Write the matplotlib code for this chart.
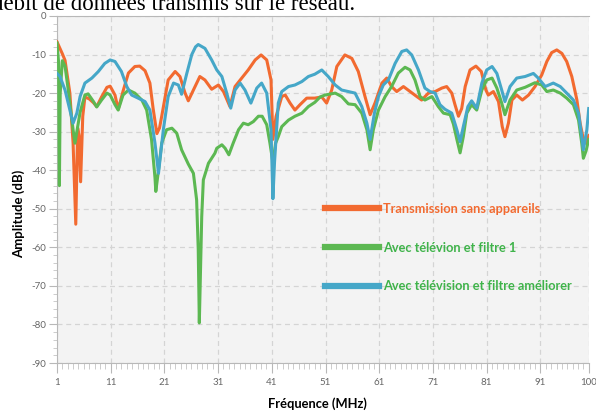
import numpy as np
import matplotlib
matplotlib.use('Agg')
import matplotlib.pyplot as plt
from matplotlib.ticker import MultipleLocator, FixedLocator

plt.rcParams['axes.unicode_minus'] = False
plt.rcParams['font.family'] = ['Lato', 'DejaVu Sans']

# Transmission sans appareils
freq_orange = [1.0, 2.0, 2.5, 3.4, 4.0, 4.5, 4.85, 5.1, 5.4, 5.8, 6.2, 7.0, 7.8, 8.4, 9.3,
               10.3, 10.9, 11.8, 12.4, 13.3, 14.3, 15.5, 16.4, 17.4, 18.3, 18.9, 19.6, 20.1,
               20.5, 21.7, 23.0, 23.9, 24.8, 25.45, 26.4, 27.6, 28.55, 29.8, 31.05, 32.0,
               33.2, 34.15, 35.4, 36.6, 37.9, 39.0, 40.05, 40.85, 41.2, 41.8, 42.85, 43.5,
               44.4, 45.3, 46.25, 47.5, 49.0, 50.3, 51.2, 52.15, 53.1, 54.6, 55.9, 57.1,
               58.35, 59.3, 60.2, 61.5, 62.4, 63.3, 64.25, 65.5, 66.75, 68.0, 68.9, 70.15,
               71.4, 72.65, 73.55, 74.5, 75.1, 75.75, 76.35, 77.0, 77.9, 79.0, 80.0, 80.85,
               81.3, 82.25, 83.2, 83.9, 84.4, 85.05, 85.7, 86.6, 87.65, 88.8, 90.0, 91.25,
               92.2, 93.1, 94.05, 95.0, 95.9, 96.85, 97.8, 98.4, 99.0, 99.5, 100.0]
amp_orange = [-6.7, -9.8, -11.5, -20, -33, -54, -29, -31, -43, -26, -21, -21.5, -22.5, -23.5, -21,
              -18.5, -18.2, -20.5, -24.2, -19.5, -14.8, -13.1, -13, -14.2, -17.4, -24, -30.5, -29,
              -26, -16.6, -14.4, -15.7, -19.8, -22, -19.2, -15.7, -16.6, -19, -17.9, -19.6,
              -23.5, -18.3, -16.1, -14, -11.4, -10.1, -11.4, -16.6, -32, -26, -20.9, -20.5,
              -22.6, -24.4, -23, -21.3, -21.3, -21, -22.6, -19.2, -13.1, -10.1, -11, -14.4,
              -20.9, -25.6, -22.6, -17.4, -16.1, -18.3, -19.6, -18.3, -19.6, -20.9, -21.8, -20,
              -19.6, -18.7, -18.3, -20, -23, -26, -24, -18.3, -14, -13, -14.4, -19.2,
              -20.5, -19.6, -22.2, -28.7, -31.3, -27.8, -21.8, -20.5, -21.8, -20.5, -18.3, -15.3,
              -11.8, -9.5, -8.8, -9.7, -11.8, -15.7, -21.8, -27.8, -32, -33, -31]

# Avec télévion et filtre 1
freq_green = [1.0, 1.3, 1.45, 1.6, 2.0, 2.5, 3.1, 4.0, 4.35, 4.7, 5.3, 6.2, 6.8, 7.8, 8.4,
              9.3, 10.3, 10.9, 11.8, 12.4, 13.3, 14.3, 15.5, 16.8, 17.7, 18.6, 19.25, 19.4,
              19.9, 20.5, 21.4, 22.4, 23.3, 24.2, 25.45, 26.4, 27.0, 27.3, 27.5, 27.95, 28.25,
              29.2, 30.4, 30.75, 31.7, 32.3, 33.0, 33.8, 34.8, 35.7, 36.6, 37.55, 38.5, 39.2,
              40.05, 40.65, 41.2, 41.7, 42.2, 42.85, 44.1, 45.3, 46.6, 47.8, 49.0, 50.0, 50.9,
              52.8, 54.0, 55.25, 56.5, 57.75, 58.7, 59.3, 59.9, 60.85, 62.1, 63.3, 64.55, 65.8,
              66.75, 67.65, 68.6, 69.5, 70.8, 72.0, 72.95, 74.2, 74.8, 75.45, 76.05, 76.65,
              77.3, 78.2, 79.15, 80.1, 81.0, 82.0, 82.9, 83.8, 84.4, 85.35, 86.6, 88.15, 90.0,
              91.25, 92.2, 93.4, 94.7, 95.9, 97.15, 98.1, 98.7, 99.0, 99.5, 100.0]
amp_green = [-7, -12, -44, -20, -11.6, -13, -19.2, -29.5, -33, -30, -25, -20.5, -20.2, -22.2, -23.6,
             -21.8, -20, -20.5, -23, -24.4, -20.5, -19.2, -20, -21.8, -24.4, -32, -42, -45.5,
             -40, -33, -29.5, -29.1, -30.4, -34.7, -38.4, -40.8, -47.7, -60.6, -79.6, -52, -42.5,
             -38.2, -35.6, -34.3, -33.4, -34.3, -36, -33, -29.5, -27.8, -28.2, -27.4, -26, -26,
             -28.2, -33, -38, -33, -31.3, -28.7, -27, -26, -25.2, -23.5, -22.4, -21, -20.5,
             -20, -20.9, -22.8, -23, -25.2, -29.5, -34.7, -29.5, -24.4, -20.9, -18.3, -14.8, -13.3,
             -14, -16.6, -20.9, -21.8, -20.9, -23.5, -25.2, -25.6, -28, -32, -35.5, -31.3,
             -25.2, -23, -24.4, -19.2, -16.6, -16.1, -18.7, -22.6, -25.6, -21.8, -19.2, -18.5, -17.3,
             -17.9, -19.6, -19.2, -20, -21.3, -23, -27, -33, -36.9, -35, -32]

# Avec télévision et filtre améliorer
freq_blue = [1.0, 1.56, 2.5, 3.4, 4.0, 4.7, 5.3, 6.2, 7.5, 8.7, 9.9, 10.9, 11.8, 13.0, 14.0,
             14.9, 16.1, 17.4, 18.3, 19.25, 19.9, 20.8, 21.7, 22.7, 23.6, 24.2, 25.15, 26.1,
             26.8, 27.3, 28.55, 29.8, 30.75, 31.7, 32.6, 33.35, 34.15, 35.1, 36.0, 37.1, 38.2,
             39.1, 40.05, 40.85, 41.2, 41.5, 42.2, 42.85, 44.1, 45.3, 46.6, 47.8, 49.0, 50.3,
             51.5, 52.8, 54.0, 55.25, 56.5, 57.75, 58.7, 59.3, 60.1, 60.85, 61.75, 62.7, 63.95,
             65.2, 66.1, 67.05, 68.3, 69.5, 70.45, 71.4, 72.3, 73.25, 74.5, 75.45, 76.05, 76.65,
             77.5, 78.2, 79.15, 80.1, 81.0, 82.0, 82.9, 83.8, 84.4, 85.35, 86.6, 88.15, 89.7,
             90.6, 91.9, 93.4, 94.7, 95.9, 97.15, 98.1, 98.7, 99.0, 99.65, 100.0]
amp_blue = [-14.9, -15.7, -19.2, -24.4, -27.8, -25.2, -20.9, -17.4, -16.1, -14.4, -12.3, -11.4, -11.8, -14.4, -18.3,
            -20.5, -21.3, -22.2, -24.4, -33, -40.8, -29.5, -20.9, -17.4, -17.9, -20.3, -15, -10,
            -8, -7.4, -8.4, -11.4, -14, -15.7, -20, -23.9, -19.2, -17.4, -19.2, -22.6, -18.7,
            -17.4, -20, -29.5, -47.4, -38, -22.6, -19.6, -18.3, -17.9, -17, -15.7, -15.1, -14,
            -15.7, -17.9, -19.2, -19.6, -20, -23.5, -27.8, -32, -25.2, -20.9, -17.9, -16.6, -12.3,
            -9.2, -8.8, -10.1, -14, -18.7, -19.6, -20, -23, -24.2, -25.2, -29.5, -32.6, -28.7,
            -23.5, -22, -23.9, -17.4, -14, -13.1, -14.9, -19.2, -22.2, -18.3, -16.1, -15.7, -14.9,
            -16.1, -18.3, -17.4, -18.3, -20, -21.8, -25.2, -31.3, -34.7, -29.5, -24]

labels = ['Transmission sans appareils', 'Avec télévion et filtre 1',
          'Avec télévision et filtre améliorer']
x_ticks = [1, 11, 21, 31, 41, 51, 61, 71, 81, 91, 100]

c_orange = '#f26a30'
c_green = '#5cb852'
c_blue = '#45a7c8'

fig = plt.figure(figsize=(5.96, 4.12), dpi=100)
ax = fig.add_axes([0.0956, 0.1189, 0.8922, 0.8423])
ax.set_facecolor('#f3f3f3')

ax.plot(freq_orange, amp_orange, color=c_orange, lw=2.2, solid_joinstyle='round', label=labels[0], zorder=3)
ax.plot(freq_green, amp_green, color=c_green, lw=2.2, solid_joinstyle='round', label=labels[1], zorder=4)
ax.plot(freq_blue, amp_blue, color=c_blue, lw=2.2, solid_joinstyle='round', label=labels[2], zorder=5)

ax.set_xlim(1, 100)
ax.set_ylim(-90, 0)
ax.xaxis.set_major_locator(FixedLocator(x_ticks))
ax.xaxis.set_minor_locator(MultipleLocator(1))
ax.yaxis.set_major_locator(MultipleLocator(10))
ax.yaxis.set_minor_locator(MultipleLocator(2))

ax.grid(True, which='major', color='#d4d4d4', linestyle=(0, (4, 3)), linewidth=0.9)
for s in ['left', 'bottom', 'top']:
    ax.spines[s].set_color('#b8b8b8')
ax.spines['right'].set_visible(False)

ax.tick_params(which='major', axis='x', length=7, color='#b8b8b8', labelsize=7, labelcolor='#666666', pad=4)
ax.tick_params(which='minor', axis='x', length=4, color='#c4c4c4')
ax.tick_params(which='major', axis='y', length=6, color='#b8b8b8', labelsize=7, labelcolor='#666666', pad=2)
ax.tick_params(which='minor', axis='y', length=3, color='#c4c4c4')

ax.set_ylabel('Amplitude (dB)', fontsize=9.5, fontweight='bold')
ax.set_xlabel('Fréquence (MHz)', fontsize=9.3, fontweight='bold')
ax.yaxis.set_label_coords(-0.060, 0.43)
ax.xaxis.set_label_coords(0.49, -0.098)

leg = ax.legend(loc='upper left', bbox_to_anchor=(0.483, 0.495), frameon=False,
                handlelength=4.2, handletextpad=0.3, labelspacing=2.1,
                labelcolor=[c_orange, '#3fb34a', '#3fb34a'], prop={'weight': 'bold', 'size': 9.2})
for line in leg.get_lines():
    line.set_linewidth(4.5)

fig.text(-8 / 596, 1 - 10 / 412, 'débit de données transmis sur le réseau.',
         family='Liberation Serif', fontsize=16.5, va='baseline', ha='left', color='black')

fig.savefig('out.png', dpi=100)
